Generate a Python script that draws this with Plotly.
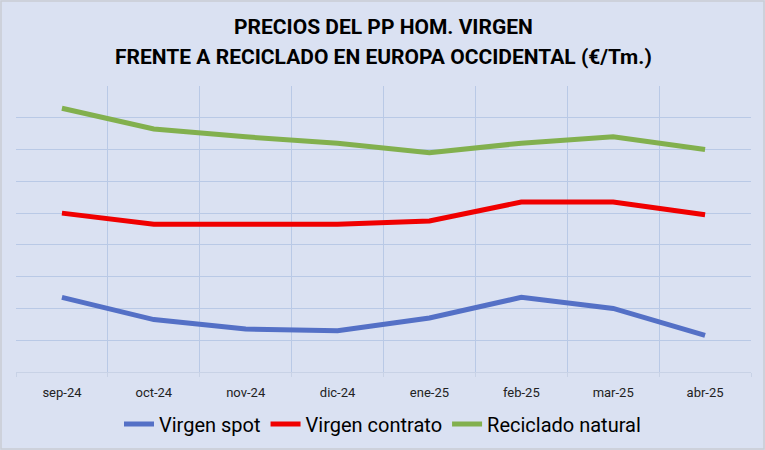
import plotly.graph_objs as go

# meses (eje de categorias)
meses = ["sep-24", "oct-24", "nov-24", "dic-24", "ene-25", "feb-25", "mar-25", "abr-25"]

# precios (€/Tm.)
virgen_spot = [1135, 1065, 1035, 1030, 1070, 1135, 1100, 1015]
virgen_contrato = [1400, 1365, 1365, 1365, 1375, 1435, 1435, 1395]
reciclado_natural = [1730, 1665, 1640, 1620, 1590, 1620, 1640, 1600]

titulo = ["PRECIOS DEL PP HOM. VIRGEN", "FRENTE A RECICLADO EN EUROPA OCCIDENTAL (€/Tm.)"]

fondo = "#DAE1F2"
rejilla = "#B9C9E6"
fuente = "Roboto, sans-serif"

fig = go.Figure()
fig.add_trace(go.Scatter(x=meses, y=virgen_spot, mode="lines", name="Virgen spot",
                         line=dict(color="#5470C6", width=5)))
fig.add_trace(go.Scatter(x=meses, y=virgen_contrato, mode="lines", name="Virgen contrato",
                         line=dict(color="#F00000", width=5)))
fig.add_trace(go.Scatter(x=meses, y=reciclado_natural, mode="lines", name="Reciclado natural",
                         line=dict(color="#82B04E", width=5)))

fig.update_layout(
    width=765, height=450,
    paper_bgcolor=fondo, plot_bgcolor=fondo,
    margin=dict(l=16, r=14, t=86, b=78, autoexpand=False),
    legend=dict(orientation="h", x=0.5, xanchor="center", xref="container",
                y=0.058, yanchor="middle", yref="container",
                font=dict(family=fuente, size=20, color="#000000"),
                bgcolor="rgba(0,0,0,0)", itemwidth=30),
    showlegend=True,
)

# titulo en dos lineas
for i, linea in enumerate(titulo):
    fig.add_annotation(text="<b>" + linea + "</b>", xref="paper", yref="paper",
                       x=0.5, y=1 + (59 - 30 * i) / 286, xanchor="center", yanchor="middle",
                       showarrow=False, font=dict(family=fuente, size=21, color="#000000"))

fig.update_xaxes(
    type="category", tickson="boundaries", showgrid=True, gridcolor=rejilla, gridwidth=1,
    ticks="outside", ticklen=4, tickcolor="#C8D2E6", ticklabelstandoff=8,
    showline=True, linecolor="#C8D2E6", linewidth=1,
    tickfont=dict(family=fuente, size=13, color="#222222"),
    range=[-0.5, 7.5], fixedrange=True,
)
fig.update_yaxes(
    range=[900, 1800], dtick=100, showgrid=True, gridcolor=rejilla, gridwidth=1,
    showticklabels=False, zeroline=False, showline=False, fixedrange=True,
)

# marco exterior del grafico
fig.add_shape(type="rect", xref="paper", yref="paper", x0=-15/735, x1=1 + 13/735,
              y0=-77/286, y1=1 + 85/286, line=dict(color="#C9CCD3", width=1.5))

# sin margen del body para que la figura ocupe la ventana
fig.write_html("out.html", config={"displayModeBar": False},
               post_script="document.body.style.margin='0';")
